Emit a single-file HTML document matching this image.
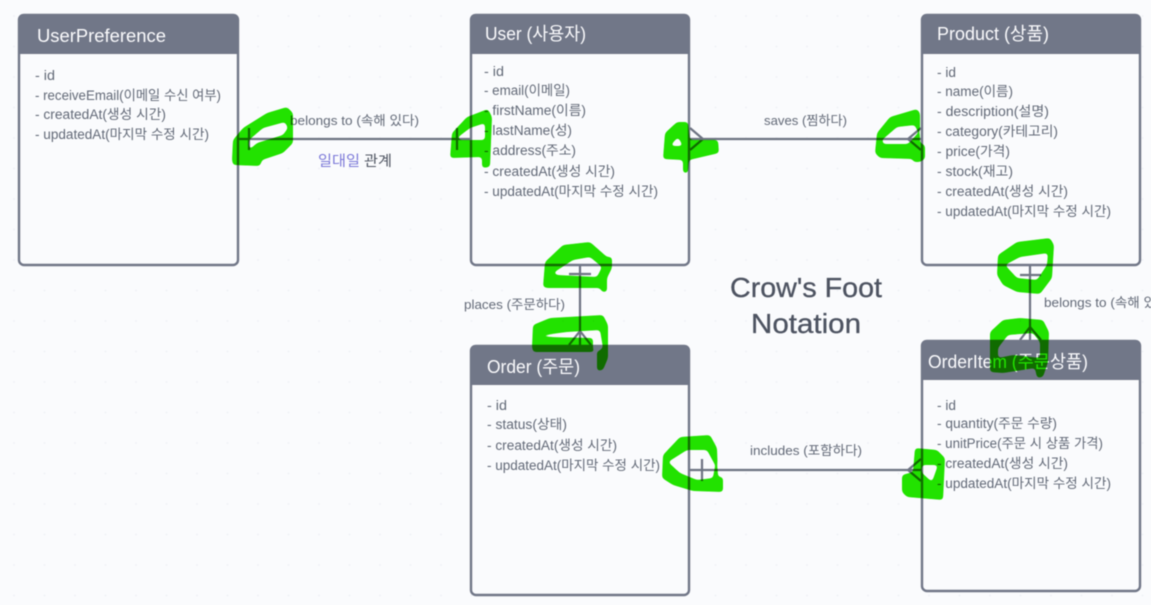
<!DOCTYPE html>
<html lang="ko">
<head>
<meta charset="utf-8">
<title>Crow's Foot Notation</title>
<style>
html,body{margin:0;padding:0;width:1151px;height:605px;overflow:hidden;background:#fafbfd}
svg{display:block;filter:blur(0.45px)}
text{font-family:"Liberation Sans","Noto Sans CJK KR",sans-serif}
.t{fill:#fbfbfd;font-size:18px}
.b{fill:#626977;font-size:13.5px}
.l{fill:#626977;font-size:13px}
.box{fill:#fafbfd;stroke:#717788;stroke-width:2.4}
.hd{fill:#717788}
.c{fill:none;stroke:#6d7382;stroke-width:2.2}
.gg{mix-blend-mode:multiply;filter:url(#round)}
.g{fill:#22e600;fill-rule:evenodd}
</style>
</head>
<body>
<svg width="1151" height="605" viewBox="0 0 1151 605" xmlns="http://www.w3.org/2000/svg">
<defs>
<pattern id="dots" x="13" y="15" width="30.5" height="30.5" patternUnits="userSpaceOnUse"><circle cx="1" cy="1" r="0.9" fill="#eef0f5"/></pattern>
<filter id="round" filterUnits="userSpaceOnUse" x="0" y="0" width="1151" height="605" color-interpolation-filters="sRGB">
<feGaussianBlur stdDeviation="1.8"/>
<feComponentTransfer><feFuncA type="linear" slope="10" intercept="-4.5"/></feComponentTransfer>
</filter>
</defs>
<rect width="1151" height="605" fill="#fafbfd"/>
<rect width="1151" height="605" fill="url(#dots)"/>

<!-- connectors -->
<g class="c">
<path d="M239 139H470M249 128V150M457 128V150"/>
<path d="M690 139H921M690 128L703 139L690 150M908 139L921 128M908 139L921 150"/>
<path d="M580 265V345M569 274H591M580 331L569 345M580 331L591 345"/>
<path d="M1030 265V340M1020 275H1041M1030 327L1020 340M1030 327L1041 340"/>
<path d="M690 470H921M702 459V481M908 470L921 459M908 470L921 481"/>
</g>

<!-- UserPreference -->
<rect class="box" x="19" y="15" width="219" height="250" rx="5"/>
<path class="hd" d="M18 54V19a5 5 0 0 1 5-5H234a5 5 0 0 1 5 5V54Z"/>
<text class="t" x="37" y="42" textLength="129" lengthAdjust="spacingAndGlyphs">UserPreference</text>
<text class="b" x="35" y="80" textLength="20" lengthAdjust="spacingAndGlyphs">- id</text>
<text class="b" x="35" y="100" textLength="186" lengthAdjust="spacingAndGlyphs">- receiveEmail(이메일 수신 여부)</text>
<text class="b" x="35" y="119" textLength="131" lengthAdjust="spacingAndGlyphs">- createdAt(생성 시간)</text>
<text class="b" x="35" y="139" textLength="174" lengthAdjust="spacingAndGlyphs">- updatedAt(마지막 수정 시간)</text>

<!-- User -->
<rect class="box" x="471" y="15" width="218" height="250" rx="5"/>
<path class="hd" d="M470 54V19a5 5 0 0 1 5-5H685a5 5 0 0 1 5 5V54Z"/>
<text class="t" x="485" y="40" textLength="101" lengthAdjust="spacingAndGlyphs">User (사용자)</text>
<text class="b" x="484" y="76" textLength="20" lengthAdjust="spacingAndGlyphs">- id</text>
<text class="b" x="484" y="95" textLength="86" lengthAdjust="spacingAndGlyphs">- email(이메일)</text>
<text class="b" x="484" y="115" textLength="102" lengthAdjust="spacingAndGlyphs">- firstName(이름)</text>
<text class="b" x="484" y="135" textLength="88" lengthAdjust="spacingAndGlyphs">- lastName(성)</text>
<text class="b" x="484" y="155" textLength="92" lengthAdjust="spacingAndGlyphs">- address(주소)</text>
<text class="b" x="484" y="176" textLength="131" lengthAdjust="spacingAndGlyphs">- createdAt(생성 시간)</text>
<text class="b" x="484" y="196" textLength="174" lengthAdjust="spacingAndGlyphs">- updatedAt(마지막 수정 시간)</text>

<!-- Product -->
<rect class="box" x="922" y="15" width="218" height="250" rx="5"/>
<path class="hd" d="M921 54V19a5 5 0 0 1 5-5H1136a5 5 0 0 1 5 5V54Z"/>
<text class="t" x="937" y="40" textLength="112" lengthAdjust="spacingAndGlyphs">Product (상품)</text>
<text class="b" x="937" y="77" textLength="19" lengthAdjust="spacingAndGlyphs">- id</text>
<text class="b" x="937" y="96" textLength="76" lengthAdjust="spacingAndGlyphs">- name(이름)</text>
<text class="b" x="937" y="116" textLength="112" lengthAdjust="spacingAndGlyphs">- description(설명)</text>
<text class="b" x="937" y="136" textLength="121" lengthAdjust="spacingAndGlyphs">- category(카테고리)</text>
<text class="b" x="937" y="156" textLength="73" lengthAdjust="spacingAndGlyphs">- price(가격)</text>
<text class="b" x="937" y="176" textLength="76" lengthAdjust="spacingAndGlyphs">- stock(재고)</text>
<text class="b" x="937" y="196" textLength="131" lengthAdjust="spacingAndGlyphs">- createdAt(생성 시간)</text>
<text class="b" x="937" y="216" textLength="174" lengthAdjust="spacingAndGlyphs">- updatedAt(마지막 수정 시간)</text>

<!-- Order -->
<rect class="box" x="471" y="346" width="218" height="249" rx="5"/>
<path class="hd" d="M470 385V350a5 5 0 0 1 5-5H685a5 5 0 0 1 5 5V385Z"/>
<text class="t" x="487" y="373" textLength="93" lengthAdjust="spacingAndGlyphs">Order (주문)</text>
<text class="b" x="487" y="410" textLength="20" lengthAdjust="spacingAndGlyphs">- id</text>
<text class="b" x="487" y="429" textLength="80" lengthAdjust="spacingAndGlyphs">- status(상태)</text>
<text class="b" x="487" y="450" textLength="130" lengthAdjust="spacingAndGlyphs">- createdAt(생성 시간)</text>
<text class="b" x="487" y="470" textLength="173" lengthAdjust="spacingAndGlyphs">- updatedAt(마지막 수정 시간)</text>

<!-- OrderItem -->
<rect class="box" x="922" y="341" width="218" height="250" rx="5"/>
<path class="hd" d="M921 380V345a5 5 0 0 1 5-5H1136a5 5 0 0 1 5 5V380Z"/>
<text class="t" x="928" y="368" textLength="160" lengthAdjust="spacingAndGlyphs">OrderItem (주문상품)</text>
<text class="b" x="937" y="410" textLength="19" lengthAdjust="spacingAndGlyphs">- id</text>
<text class="b" x="937" y="428" textLength="120" lengthAdjust="spacingAndGlyphs">- quantity(주문 수량)</text>
<text class="b" x="937" y="448" textLength="166" lengthAdjust="spacingAndGlyphs">- unitPrice(주문 시 상품 가격)</text>
<text class="b" x="937" y="468" textLength="131" lengthAdjust="spacingAndGlyphs">- createdAt(생성 시간)</text>
<text class="b" x="937" y="488" textLength="174" lengthAdjust="spacingAndGlyphs">- updatedAt(마지막 수정 시간)</text>

<!-- labels -->
<text class="l" x="290" y="125" textLength="129" lengthAdjust="spacingAndGlyphs">belongs to (속해 있다)</text>
<text x="318" y="166" font-size="14.5" fill="#7b78d8" textLength="42" lengthAdjust="spacingAndGlyphs">일대일</text>
<text x="364" y="166" font-size="14.5" fill="#4f5562" textLength="28" lengthAdjust="spacingAndGlyphs">관계</text>
<text class="l" x="764" y="125" textLength="83" lengthAdjust="spacingAndGlyphs">saves (찜하다)</text>
<text class="l" x="464" y="309" textLength="101" lengthAdjust="spacingAndGlyphs">places (주문하다)</text>
<text class="l" x="1044" y="307" textLength="129" lengthAdjust="spacingAndGlyphs">belongs to (속해 있다)</text>
<text class="l" x="750" y="455" textLength="112" lengthAdjust="spacingAndGlyphs">includes (포함하다)</text>
<text x="730" y="297" font-size="28" fill="#4d5361" stroke="#4d5361" stroke-width="0.3" textLength="152" lengthAdjust="spacingAndGlyphs">Crow's Foot</text>
<text x="751" y="333" font-size="28" fill="#4d5361" stroke="#4d5361" stroke-width="0.3" textLength="110" lengthAdjust="spacingAndGlyphs">Notation</text>

<!-- green hand-drawn scribbles -->
<g class="gg">
<path class="g" d="M232 160L233 140L243 128L267 113L287 107L293 113L293 143L283 153L262 160L260 166L233 165ZM249 140L263 128L285 122L288 128L283 135L257 143L249 150Z"/>
<path class="g" d="M450 158L452 133L467 117L488 109L492 117L490 167L482 168L482 157ZM457 138L470 128L485 123L485 140L460 140Z"/>
<path class="g" d="M663 159L665 133L677 122L688 122L690 140L718 140L719 153L689 160L688 173L683 173L683 160ZM670 146L678 137L683 146Z"/>
<path class="g" d="M875 153L877 133L890 117L917 109L920 113L920 143L925 145L925 159L920 162L913 162L913 159L880 158ZM882 140L897 127L915 125L918 133L908 144L883 144Z"/>
<path class="g" d="M543 287L545 262L563 245L590 242L607 257L612 257L612 268L607 278L607 292L602 292L600 288L547 288ZM553 273L573 260L590 257L602 267L597 277L557 275Z"/>
<path class="g" d="M532 347L533 325L550 318L603 315L608 325L608 358L603 370L597 371L597 352L533 352ZM543 335L567 332L600 330L603 348L597 352L593 350L593 338L543 337Z"/>
<path class="g" d="M662 478L663 455L680 437L710 435L717 448L718 477L723 477L723 492L693 491L673 485ZM668 462L687 450L707 450L715 465L713 478L697 480L680 473Z"/>
<path class="g" d="M902 492L902 475L913 472L915 448L937 450L945 458L943 500L907 497ZM922 465L938 465L932 482L922 473Z"/>
<path class="g" d="M997 275L998 255L1017 242L1050 238L1054 245L1052 278L1040 294L1017 292L1003 285ZM1005 265L1020 257L1048 253L1047 265L1037 280L1017 278Z"/>
<path class="g" d="M990 372L990 332L1003 320L1020 318L1043 320L1049 332L1048 362L1043 377L1037 378L1035 368L1003 373ZM998 348L1008 335L1033 333L1040 342L1040 358L1013 355L998 358Z"/>
</g>
</svg>
</body>
</html>
